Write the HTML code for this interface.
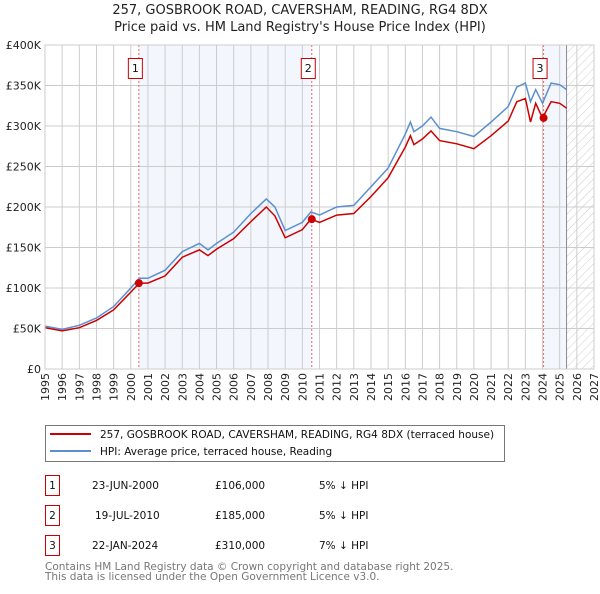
<!DOCTYPE html>
<html><head><meta charset="utf-8"><style>
body{margin:0;background:#fff;width:600px;height:590px;overflow:hidden;font-family:"DejaVu Sans","Liberation Sans",sans-serif}
svg text{font-family:"DejaVu Sans","Liberation Sans",sans-serif}
</style></head><body>
<svg id="c" width="600" height="590" xmlns="http://www.w3.org/2000/svg">
<defs><pattern id="hatch" width="6" height="6" patternUnits="userSpaceOnUse" patternTransform="rotate(45)"><line x1="0" y1="0" x2="0" y2="6" stroke="#ccc" stroke-width="1"/></pattern></defs>
<text x="300" y="14" text-anchor="middle" font-size="13" fill="#222">257, GOSBROOK ROAD, CAVERSHAM, READING, RG4 8DX</text>
<text x="300" y="31" text-anchor="middle" font-size="13" fill="#222">Price paid vs. HM Land Registry's House Price Index (HPI)</text>
<g id="plot"></g>
<g>
<rect x="45.5" y="425.5" width="459" height="36" fill="#fff" stroke="#777"/>
<line x1="50" y1="434" x2="91" y2="434" stroke="#cc0000" stroke-width="2"/>
<text x="100" y="438" font-size="10.5" fill="#111">257, GOSBROOK ROAD, CAVERSHAM, READING, RG4 8DX (terraced house)</text>
<line x1="50" y1="451" x2="91" y2="451" stroke="#5b8fd0" stroke-width="2"/>
<text x="100" y="455" font-size="10.5" fill="#111">HPI: Average price, terraced house, Reading</text>
</g>
<g font-size="10.5" fill="#111">
<rect x="45.5" y="475.5" width="14" height="20" fill="none" stroke="#cc0000"/><text x="52.5" y="489" text-anchor="middle">1</text>
<text x="92" y="489">23-JUN-2000</text><text x="215" y="489">£106,000</text><text x="319" y="489">5% ↓ HPI</text>
<rect x="45.5" y="505.5" width="14" height="20" fill="none" stroke="#cc0000"/><text x="52.5" y="519" text-anchor="middle">2</text>
<text x="95" y="519">19-JUL-2010</text><text x="215" y="519">£185,000</text><text x="319" y="519">5% ↓ HPI</text>
<rect x="45.5" y="535.5" width="14" height="20" fill="none" stroke="#cc0000"/><text x="52.5" y="549" text-anchor="middle">3</text>
<text x="92" y="549">22-JAN-2024</text><text x="215" y="549">£310,000</text><text x="319" y="549">7% ↓ HPI</text>
</g>
<text x="45" y="570" font-size="10.5" fill="#777">Contains HM Land Registry data © Crown copyright and database right 2025.</text>
<text x="45" y="580" font-size="10.5" fill="#777">This data is licensed under the Open Government Licence v3.0.</text>
</svg>
<script>
const hpiYears=[1995,1996,1997,1998,1999,2000,2000.5,2001,2002,2003,2004,2004.5,2005,2006,2007,2007.9,2008.4,2009,2010,2010.5,2011,2012,2013,2014,2015,2016,2016.3,2016.5,2017,2017.5,2018,2019,2020,2021,2022,2022.5,2023,2023.3,2023.6,2024,2024.5,2025,2025.4];
const hpiValues=[53,49,54,63,77,100,112,112,122,145,155,147,155,169,192,210,200,171,181,194,190,200,202,225,248,290,305,293,300,311,297,293,287,305,324,348,353,330,345,328,353,351,345];
const propYears=hpiYears;
const propValues=[51,47,51,60,73,95,106,106,115,138,147,140,148,161,182,200,189,162,172,185,181,190,192,213,236,274,288,277,284,294,282,278,272,288,306,330,334,305,328,310,330,328,322];
const saleYears=[2000.47,2010.55,2024.06];
const saleValues=[106,185,310];
const saleLabels=["1","2","3"];
const yTicks=[0,50,100,150,200,250,300,350,400];
const yTickLabels=["£0","£50K","£100K","£150K","£200K","£250K","£300K","£350K","£400K"];
const xTicks=[1995,1996,1997,1998,1999,2000,2001,2002,2003,2004,2005,2006,2007,2008,2009,2010,2011,2012,2013,2014,2015,2016,2017,2018,2019,2020,2021,2022,2023,2024,2025,2026,2027];
const X0=45,X1=594,Y0=369,Y1=45;
const sx=t=>X0+(t-1995)/(2027-1995)*(X1-X0);
const sy=v=>Y0-(v/400)*(Y0-Y1);
const NS="http://www.w3.org/2000/svg";
const g=document.getElementById('plot');
function mk(tag,at){const e=document.createElementNS(NS,tag);for(const k in at)e.setAttribute(k,at[k]);g.appendChild(e);return e;}
let r;
r=mk('rect',{x:sx(2000.47),y:Y1,width:sx(2010.55)-sx(2000.47),height:Y0-Y1,fill:'#eef3fc',opacity:0.7});


r=mk('rect',{x:sx(2024.06),y:Y1,width:sx(2025.4)-sx(2024.06),height:Y0-Y1,fill:'#eef3fc',opacity:0.7});


r=mk('rect',{x:sx(2025.4),y:Y1,width:X1-sx(2025.4),height:Y0-Y1,fill:'url(#hatch)'});


xTicks.forEach(t=>{const l=mk('line',{x1:sx(t),x2:sx(t),y1:Y1,y2:Y0,stroke:'#ccc','stroke-width':1});


const tx=mk('text',{x:0,y:0,'text-anchor':'end','font-size':11,fill:'#222',transform:'translate('+(sx(t)+4)+','+(Y0+4)+') rotate(-90)'});tx.textContent=t;

});
yTicks.forEach((v,i)=>{const l=mk('line',{x1:X0,x2:X1,y1:sy(v),y2:sy(v),stroke:'#ccc','stroke-width':1});


const tx=mk('text',{x:X0-4,y:sy(v)+4,'text-anchor':'end','font-size':11,fill:'#222'});tx.textContent=yTickLabels[i];

});
r=mk('line',{x1:sx(2025.4),x2:sx(2025.4),y1:Y1,y2:Y0,stroke:'#889',"stroke-width":1});


saleYears.forEach((t,i)=>{const l=mk('line',{x1:sx(t),x2:sx(t),y1:Y1,y2:Y0,stroke:'#e66','stroke-width':1,'stroke-dasharray':'2,2'});


const b=mk('rect',{x:sx(t)-10.5,y:58.5,width:14,height:20,fill:'#fff',stroke:'#cc0000'});


const tx=mk('text',{x:sx(t)-3.5,y:72,'text-anchor':'middle','font-size':11,fill:'#111'});tx.textContent=saleLabels[i];

});
const path=(xs,vs)=>xs.map((t,i)=>(i?'L':'M')+sx(t).toFixed(1)+','+sy(vs[i]).toFixed(1)).join('');
r=mk('path',{d:path(hpiYears,hpiValues),fill:'none',stroke:'#5b8fd0','stroke-width':1.5});


r=mk('path',{d:path(propYears,propValues),fill:'none',stroke:'#cc0000','stroke-width':1.5});


saleYears.forEach((t,i)=>{const c=mk('circle',{cx:sx(t),cy:sy(saleValues[i]),r:4,fill:'#cc0000'});

});
r=mk('rect',{x:X0,y:Y1,width:X1-X0,height:Y0-Y1,fill:'none',stroke:'#ccc'});


</script>
</body></html>
